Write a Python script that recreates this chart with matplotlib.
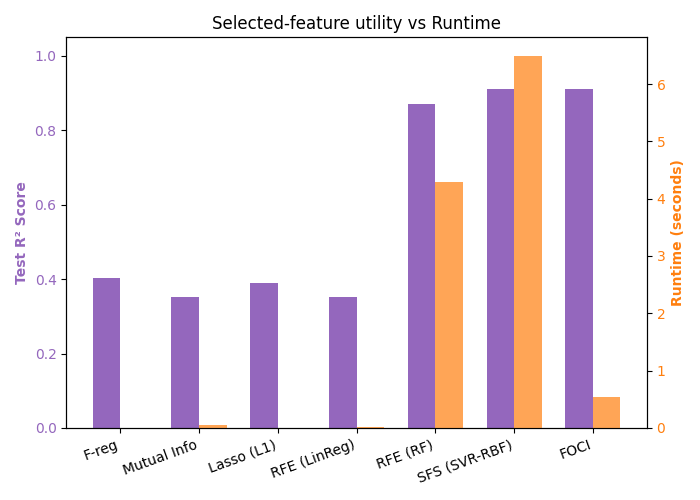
import matplotlib
matplotlib.use("Agg")
import matplotlib.pyplot as plt
import numpy as np

methods = ["F-reg", "Mutual Info", "Lasso (L1)", "RFE (LinReg)", "RFE (RF)", "SFS (SVR-RBF)", "FOCI"]
r2_scores = [0.403, 0.352, 0.390, 0.352, 0.871, 0.911, 0.911]
runtimes = [0.003, 0.05, 0.002, 0.02, 4.29, 6.49, 0.54]

x = np.arange(len(methods))
width = 0.35

fig, ax1 = plt.subplots(figsize=(7, 5), dpi=100)
ax2 = ax1.twinx()

ax1.bar(x - width / 2, r2_scores, width, color="tab:purple", label="Test R²")
ax2.bar(x + width / 2, runtimes, width, color="tab:orange", alpha=0.7, label="Runtime")

ax1.set_ylim(0, 1.05)
ax1.set_ylabel("Test R² Score", color="tab:purple", fontweight="bold")
ax2.set_ylabel("Runtime (seconds)", color="tab:orange", fontweight="bold")
ax1.tick_params(axis="y", labelcolor="tab:purple")
ax2.tick_params(axis="y", labelcolor="tab:orange")

ax1.set_xticks(x)
ax1.set_xticklabels(methods, rotation=20, ha="right")
ax1.set_title("Selected-feature utility vs Runtime")

fig.tight_layout()
fig.savefig("out.png")
